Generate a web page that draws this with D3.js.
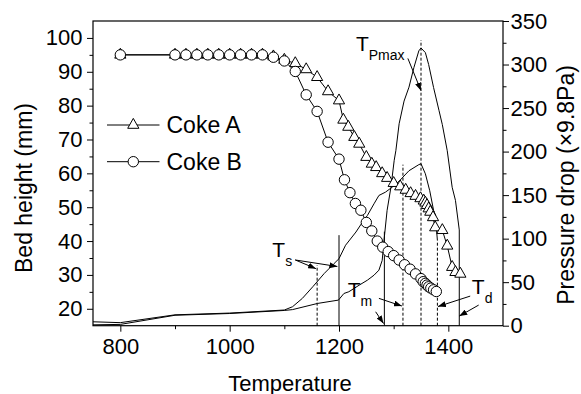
<!DOCTYPE html>
<html>
<head>
<meta charset="utf-8">
<script src="https://cdn.jsdelivr.net/npm/d3@7/dist/d3.min.js"></script>
<style>
  html, body { margin: 0; padding: 0; background: #fff; }
  svg { display: block; font-family: "Liberation Sans", Arial, Helvetica, sans-serif; }
</style>
</head>
<body>
<svg id="chart" width="581" height="394"></svg>
<script>
// ---- Bed height (mm) versus temperature ----
const cokeA_T = [800, 900, 920, 940, 960, 980, 1000, 1020, 1040, 1060, 1080, 1100, 1120, 1140, 1160, 1180, 1200,
  1208, 1217, 1228, 1237, 1250, 1260, 1268, 1279, 1288, 1300, 1312, 1322, 1331, 1340, 1349, 1355, 1358, 1361,
  1364, 1367, 1372, 1376, 1389, 1398, 1407, 1413, 1422];
const cokeA_H = [95, 95, 95, 95, 95, 95, 95, 95, 95, 95, 94.5, 93.5, 92.5, 90.7, 88.4, 84.2, 81.5,
  75.8, 73.7, 70.7, 68.7, 64.8, 62.8, 61.8, 60.0, 58.6, 57.1, 56.1, 55.1, 54.1, 53.3, 52.6, 51.9, 51.3, 50.6,
  49.6, 48.6, 47.0, 44.0, 43.2, 38.6, 32.3, 30.8, 30.3];

const cokeB_T = [800, 900, 920, 940, 960, 980, 1000, 1020, 1040, 1060, 1080, 1100, 1120, 1140, 1160, 1180, 1200,
  1210, 1220, 1230, 1240, 1250, 1260, 1270, 1280, 1290, 1300, 1310, 1320, 1330, 1340, 1350, 1354, 1358, 1361,
  1364, 1368, 1373, 1378];
const cokeB_H = [95, 95, 95, 95, 95, 95, 95, 95, 95, 95, 94.3, 93.2, 90.1, 83.2, 78.3, 69.2, 64.2,
  58.1, 54.3, 51.1, 49.1, 45.5, 43.0, 40.0, 38.2, 36.9, 35.7, 34.4, 33.0, 31.7, 30.3, 28.9, 28.0, 27.5, 27.0,
  26.5, 26.1, 25.6, 25.1];

// ---- Pressure drop (x9.8 Pa) versus temperature ----
const pressA_T = [750, 800, 900, 1000, 1100, 1115, 1161, 1199, 1209, 1218, 1237, 1252, 1264, 1273, 1279, 1283,
  1288, 1295, 1301, 1304, 1310, 1319, 1328, 1337, 1346, 1350, 1358, 1364, 1373, 1383, 1389, 1398, 1407, 1413, 1420];
const pressA_P = [1, 1.5, 12, 14, 17.5, 18.5, 25.6, 29.4, 37, 39, 46.6, 52.3, 58, 63.8, 75, 102,
  132.5, 159, 190, 201, 232, 258, 274, 296.5, 315.7, 319, 313.7, 300, 273.6, 247, 231, 201, 159, 144, 110];

const pressB_T = [750, 800, 900, 1000, 1100, 1115, 1133, 1152, 1173, 1191, 1200, 1212, 1231, 1243, 1252, 1264,
  1273, 1285, 1297, 1310, 1328, 1346, 1350, 1358, 1366, 1373, 1378, 1380];
const pressB_P = [4.5, 3.5, 12.5, 14.5, 18, 21.8, 31.4, 44.7, 60, 71.4, 77, 92.4, 107.6, 119, 126.7, 140,
  149.6, 153.4, 159, 166, 178, 185, 186, 174.5, 155, 132.5, 113, 98];

// ---- characteristic temperatures: [temperature, pressure at top of marker line] ----
const solidMarks = [[1200, 104], [1283, 108], [1420, 110]];
const dashedMarks = [[1160, 69.5], [1317, 185], [1350, 328], [1380, 98]];

// labels: [subscript, temperature, pressure]
const tempLabels = [["Pmax", 1231, 315], ["s", 1078, 79], ["m", 1216, 33], ["d", 1443, 36.3]];
// arrows: [fromT, fromP, toT, toP]
const arrows = [
  [1326, 307, 1350, 270],
  [1120, 75.5, 1158, 65.5], [1120, 75.5, 1197, 68],
  [1273, 31.4, 1315, 22.6], [1267, 16, 1281.5, 2.5],
  [1440, 34, 1381, 22], [1455.5, 23.7, 1420, 11]
];

// ---- axis ticks ----
const xTicks = [800, 1000, 1200, 1400];
const xMinor = [900, 1100, 1300];
const yLTicks = [20, 30, 40, 50, 60, 70, 80, 90, 100];
const yLMinor = [25, 35, 45, 55, 65, 75, 85, 95];
const yRTicks = [0, 50, 100, 150, 200, 250, 300, 350];
const yRMinor = [25, 75, 125, 175, 225, 275, 325];

const legendNames = ["Coke A", "Coke B"];

// ---- layout ----
const L = 93, R = 503, T = 21, B = 325.7;
const svg = d3.select("#chart");

const x = d3.scaleLinear([750, 1500], [L, R]);
const yL = d3.scaleLinear([15, 105], [B, T]);
const yR = d3.scaleLinear([0, 350], [B, T]);

const FS = 22;

svg.append("defs").append("marker")
  .attr("id", "head").attr("markerUnits", "userSpaceOnUse")
  .attr("viewBox", "0 0 8 6").attr("refX", 8).attr("refY", 3)
  .attr("markerWidth", 8).attr("markerHeight", 6).attr("orient", "auto")
  .append("path").attr("d", "M0,0 L8,3 L0,6 Z").attr("fill", "#000");

// axes
function styleAxis(g) {
  g.selectAll("path.domain").remove();
  g.selectAll("line").attr("stroke", "#000").attr("stroke-width", 1);
  g.selectAll("text").attr("font-size", FS).attr("fill", "#000")
    .attr("font-family", "'Liberation Sans', Arial, sans-serif");
}
svg.append("g").attr("transform", `translate(0,${B})`)
  .call(d3.axisBottom(x).tickValues(xTicks).tickFormat(d3.format("d")).tickSize(6).tickPadding(6.5))
  .call(styleAxis);
svg.append("g").attr("transform", `translate(0,${B})`)
  .call(d3.axisBottom(x).tickValues(xMinor).tickFormat("").tickSize(3.5)).call(styleAxis);

svg.append("g").attr("transform", `translate(${L},0)`)
  .call(d3.axisLeft(yL).tickValues(yLTicks).tickSize(6).tickPadding(4.5))
  .call(styleAxis);
svg.append("g").attr("transform", `translate(${L},0)`)
  .call(d3.axisLeft(yL).tickValues(yLMinor).tickFormat("").tickSize(3.5)).call(styleAxis);

svg.append("g").attr("transform", `translate(${R},0)`)
  .call(d3.axisRight(yR).tickValues(yRTicks).tickSize(6).tickPadding(1.5))
  .call(styleAxis);
svg.append("g").attr("transform", `translate(${R},0)`)
  .call(d3.axisRight(yR).tickValues(yRMinor).tickFormat("").tickSize(3.5)).call(styleAxis);

// axis titles
svg.append("text").attr("x", (L + R) / 2 - 8).attr("y", 390.5).attr("text-anchor", "middle")
  .attr("font-size", FS).text("Temperature");
svg.append("text").attr("transform", `translate(31.5,188) rotate(-90)`).attr("text-anchor", "middle")
  .attr("font-size", 23).text("Bed height (mm)");
svg.append("text").attr("transform", `translate(573.5,185) rotate(-90)`).attr("text-anchor", "middle")
  .attr("font-size", 23).text("Pressure drop (×9.8Pa)");

// pressure curves
const lineP = d3.line().x(d => x(d[0])).y(d => yR(d[1]));
[[pressA_T, pressA_P], [pressB_T, pressB_P]].forEach(([ts, ps]) => {
  svg.append("path").datum(ts.map((t, i) => [t, ps[i]]))
    .attr("d", lineP).attr("fill", "none").attr("stroke", "#000").attr("stroke-width", 1);
});

// characteristic temperature marker lines
svg.append("g").selectAll("line").data(solidMarks).join("line")
  .attr("x1", d => x(d[0])).attr("x2", d => x(d[0]))
  .attr("y1", yR(0)).attr("y2", d => yR(d[1]))
  .attr("stroke", "#000").attr("stroke-width", 1);
svg.append("g").selectAll("line").data(dashedMarks).join("line")
  .attr("x1", d => x(d[0])).attr("x2", d => x(d[0]))
  .attr("y1", yR(0)).attr("y2", d => yR(d[1]))
  .attr("stroke", "#000").attr("stroke-width", 1).attr("stroke-dasharray", "3,2");

// bed height series
const lineH = d3.line().x(d => x(d[0])).y(d => yL(d[1]));
const triPath = "M0,-6.6 L5.6,3.3 L-5.6,3.3 Z";

function drawSeries(ts, hs, marker) {
  const pts = ts.map((t, i) => [t, hs[i]]);
  svg.append("path").datum(pts).attr("d", lineH)
    .attr("fill", "none").attr("stroke", "#000").attr("stroke-width", 1);
  const g = svg.append("g");
  pts.forEach(p => {
    if (marker === "tri") {
      g.append("path").attr("d", triPath)
        .attr("transform", `translate(${x(p[0])},${yL(p[1])})`)
        .attr("fill", "#fff").attr("stroke", "#000").attr("stroke-width", 1);
    } else {
      g.append("circle").attr("cx", x(p[0])).attr("cy", yL(p[1])).attr("r", 5.2)
        .attr("fill", "#fff").attr("stroke", "#000").attr("stroke-width", 1);
    }
  });
}
drawSeries(cokeA_T, cokeA_H, "tri");
drawSeries(cokeB_T, cokeB_H, "circle");

// annotation labels
tempLabels.forEach(([sub, t, p]) => {
  const tx = svg.append("text").attr("x", x(t)).attr("y", yR(p)).attr("font-size", 21);
  tx.append("tspan").text("T");
  tx.append("tspan").attr("font-size", 14).attr("dy", 9).text(sub);
});
svg.append("g").selectAll("line").data(arrows).join("line")
  .attr("x1", d => x(d[0])).attr("y1", d => yR(d[1]))
  .attr("x2", d => x(d[2])).attr("y2", d => yR(d[3]))
  .attr("stroke", "#000").attr("stroke-width", 1).attr("marker-end", "url(#head)");

// frame
svg.append("rect").attr("x", L).attr("y", T).attr("width", R - L).attr("height", B - T)
  .attr("fill", "none").attr("stroke", "#000").attr("stroke-width", 1.2);

// legend
const lg = svg.append("g");
legendNames.forEach((name, i) => {
  const ly = 125 + i * 36.7;
  lg.append("line").attr("x1", 107).attr("x2", 159.5).attr("y1", ly).attr("y2", ly)
    .attr("stroke", "#000").attr("stroke-width", 1);
  if (i === 0) {
    lg.append("path").attr("d", triPath).attr("transform", `translate(133.3,${ly})`)
      .attr("fill", "#fff").attr("stroke", "#000");
  } else {
    lg.append("circle").attr("cx", 133.3).attr("cy", ly).attr("r", 5.2)
      .attr("fill", "#fff").attr("stroke", "#000");
  }
  lg.append("text").attr("x", 166.5).attr("y", ly + 8).attr("font-size", 23).text(name);
});
</script>
</body>
</html>
